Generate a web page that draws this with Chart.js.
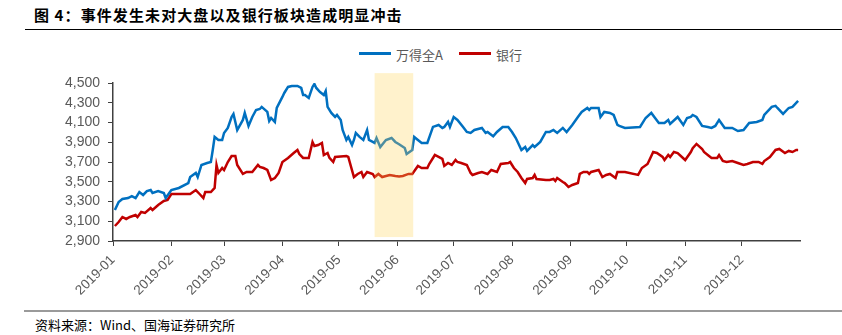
<!DOCTYPE html>
<html>
<head>
<meta charset="utf-8">
<script src="https://cdn.jsdelivr.net/npm/chart.js@4.4.1/dist/chart.umd.min.js"></script>
<style>
  body { margin:0; background:#fff; width:842px; height:335px; position:relative; overflow:hidden;
         font-family:"Noto Sans CJK SC", sans-serif; }
  #title { position:absolute; left:34px; top:4px; font-size:15px; font-weight:bold; color:#000; letter-spacing:1.1px; }
  #topline { position:absolute; left:25px; right:0; top:29px; height:1px; background:#000; }
  #box { position:absolute; left:0; top:36px; width:842px; height:269px; }
  #botline { position:absolute; left:24px; right:0; top:310px; height:2px; background:#9a9a9a; }
  #source { position:absolute; left:35px; top:315px; font-size:13px; color:#000; }
  .lg { position:absolute; top:45px; font-size:13px; color:#595959; }
  .sw { position:absolute; top:52px; width:32px; height:3px; }
</style>
</head>
<body>
<div id="title">图 4：事件发生未对大盘以及银行板块造成明显冲击</div>
<div id="topline"></div>
<div class="sw" style="left:359px;background:#0070C0"></div>
<div class="lg" style="left:396px">万得全A</div>
<div class="sw" style="left:459px;background:#C00000"></div>
<div class="lg" style="left:496px">银行</div>
<div id="box"><canvas id="c"></canvas></div>
<div id="botline"></div>
<div id="source">资料来源：Wind、国海证券研究所</div>
<script>
// day of year (0 = Jan 1 2019) and index level
var blueDays = [1,3,5,8,10,12,14,16,18,20,21,24,27,28,31,35,40,41,44,45,47,50,52,53,54,56,58,59,61,63,64,66,69,70,72,74,76,78,79,82,83,84,86,87,90,91,93,95,98,
  100,101,102,104,106,107,108,110,112,113,114,116,118,119,121,122,124,125,127,128,129,131,133,135,136,138,139,140,142,145,148,150,152,155,156,159,160,162,164,167,170,173,175,176,178,179,181,183,186,188,190,192,196,198,199,
  202,204,207,210,212,214,215,217,219,220,223,224,227,230,232,234,236,239,241,244,247,249,252,253,254,258,259,261,264,266,268,269,272,280,283,286,288,290,293,295,296,300,
  303,305,307,308,310,313,316,318,320,322,325,329,332,335,338,342,345,346,350,352,353,356,359,361,364];
var blueVals = [3214,3295,3325,3335,3355,3335,3396,3366,3406,3416,3386,3406,3386,3335,3416,3437,3487,3548,3589,3548,3670,3690,3700,3822,3954,3923,3923,3994,4045,4156,4187,4024,4126,4197,4065,4156,4227,4237,4258,4207,4116,4146,4106,4247,4359,4399,4460,4470,4470,
  4450,4379,4379,4349,4460,4490,4450,4409,4379,4419,4258,4197,4156,4176,4126,4024,3923,3954,3872,3923,3994,3954,3923,4024,3923,3903,3893,3943,3852,3923,3943,3903,3880,3842,3781,3822,3954,3923,3893,3893,4055,4075,4045,4055,4106,4055,4156,4126,4055,4004,3994,4024,4045,3994,4004,
  3960,4004,4055,4055,4004,3943,3903,3822,3852,3812,3872,3852,3903,4004,4004,4024,3994,4045,4004,4075,4156,4207,4247,4227,4247,4247,4156,4207,4197,4176,4075,4065,4045,4055,4146,4197,4146,4095,4095,4126,4085,4156,
  4075,4146,4156,4176,4156,4065,4055,4045,4065,4126,4045,4045,4014,4024,4095,4106,4126,4176,4258,4268,4247,4187,4247,4258,4318];

var redDays = [1,3,5,7,9,12,13,15,17,20,21,24,27,29,31,33,41,44,46,48,49,52,54,55,56,58,59,61,63,65,66,69,71,74,77,78,80,82,84,86,88,90,93,96,98,
  99,101,104,106,107,109,111,112,114,115,117,118,124,125,128,130,132,133,135,138,139,141,143,147,150,152,154,157,159,162,164,167,168,171,173,175,176,178,180,182,183,185,188,190,191,194,196,199,
  201,204,206,210,211,213,215,217,219,220,223,224,225,230,232,234,235,236,239,240,242,244,247,248,250,252,253,254,258,260,262,264,267,268,272,279,281,284,285,287,289,292,293,295,296,298,300,304,
  307,308,310,313,314,316,318,321,322,324,326,329,332,335,337,340,343,345,346,349,352,354,357,359,361,363,364];
var redVals = [3052,3092,3143,3123,3143,3163,3143,3194,3184,3234,3214,3265,3305,3315,3376,3376,3376,3416,3376,3335,3396,3396,3437,3670,3589,3639,3619,3700,3761,3761,3670,3579,3599,3599,3670,3650,3639,3619,3518,3538,3589,3700,3741,3791,3822,
  3781,3741,3741,3903,3862,3872,3893,3771,3791,3741,3700,3751,3761,3751,3548,3579,3599,3548,3599,3579,3548,3579,3548,3569,3558,3553,3558,3579,3579,3660,3639,3639,3680,3771,3751,3731,3660,3690,3670,3720,3700,3690,3670,3589,3569,3589,3599,3579,
  3619,3599,3680,3690,3700,3639,3599,3538,3487,3528,3538,3569,3528,3518,3518,3528,3508,3538,3497,3487,3447,3467,3487,3579,3599,3599,3579,3599,3619,3548,3569,3579,3538,3599,3599,3569,3639,3680,3720,3801,3791,3751,3720,3771,3751,3801,3791,3720,
  3801,3840,3883,3832,3801,3771,3741,3741,3771,3710,3700,3710,3690,3670,3680,3700,3700,3680,3710,3751,3822,3832,3791,3812,3801,3822,3822];

var monthStarts = [0,31,59,90,120,151,181,212,243,273,304,334];
var monthLabels = ['2019-01','2019-02','2019-03','2019-04','2019-05','2019-06','2019-07','2019-08','2019-09','2019-10','2019-11','2019-12'];
var yTicks = [2900,3100,3300,3500,3700,3900,4100,4300,4500];
// event window: about May 20 to Jun 10
var eventStart = 139, eventEnd = 159.5;

function pts(days, vals){
  return days.map(function(d,i){ return {x:d, y:vals[i]}; });
}

var shade = {
  id:'shade',
  afterDatasetsDraw: function(chart){
    var xs = chart.scales.x, ys = chart.scales.y, ctx = chart.ctx;
    var x1 = xs.getPixelForValue(eventStart), x2 = xs.getPixelForValue(eventEnd);
    var y1 = ys.getPixelForValue(4600), y2 = ys.getPixelForValue(2940);
    ctx.save();
    ctx.fillStyle = 'rgba(255,212,85,0.3)';
    ctx.fillRect(x1, y1, x2-x1, y2-y1);
    ctx.restore();
  }
};

var ctx = document.getElementById('c').getContext('2d');
var chart = new Chart(ctx, {
  type:'line',
  data:{
    datasets:[{
      label:'万得全A',
      data: pts(blueDays, blueVals),
      borderColor:'#0070C0',
      borderWidth:2.5,
      pointRadius:0,
      tension:0
    },{
      label:'银行',
      data: pts(redDays, redVals),
      borderColor:'#C00000',
      borderWidth:2.5,
      pointRadius:0,
      tension:0
    }]
  },
  options:{
    responsive:true,
    maintainAspectRatio:false,
    animation:false,
    layout:{ padding:{ top:47, right:42, left:0, bottom:0 } },
    plugins:{ legend:{ display:false }, tooltip:{ enabled:false } },
    scales:{
      x:{
        type:'linear', min:0, max:365,
        afterBuildTicks: function(scale){ scale.ticks = monthStarts.map(function(v){ return {value:v}; }); },
        afterFit: function(scale){ scale.height = 64; },
        ticks:{
          autoSkip:false, minRotation:45, maxRotation:45, padding:6,
          color:'#595959', font:{ family:'Liberation Sans', size:13.5 },
          callback: function(v, i){ return monthLabels[i]; }
        },
        grid:{ drawOnChartArea:false, drawTicks:true, tickLength:5, color:'#404040' },
        border:{ color:'#404040', width:1.5 }
      },
      y:{
        min:2900, max:4500,
        afterBuildTicks: function(scale){ scale.ticks = yTicks.map(function(v){ return {value:v}; }); },
        afterFit: function(scale){ scale.width = 113; },
        ticks:{
          autoSkip:false, padding:8, color:'#595959', font:{ family:'Liberation Sans', size:14 },
          callback: function(v){ return v.toLocaleString('en-US'); }
        },
        grid:{ drawOnChartArea:false, drawTicks:true, tickLength:5, color:'#404040' },
        border:{ color:'#404040', width:1.5 }
      }
    }
  },
  plugins:[shade]
});
</script>
</body>
</html>
